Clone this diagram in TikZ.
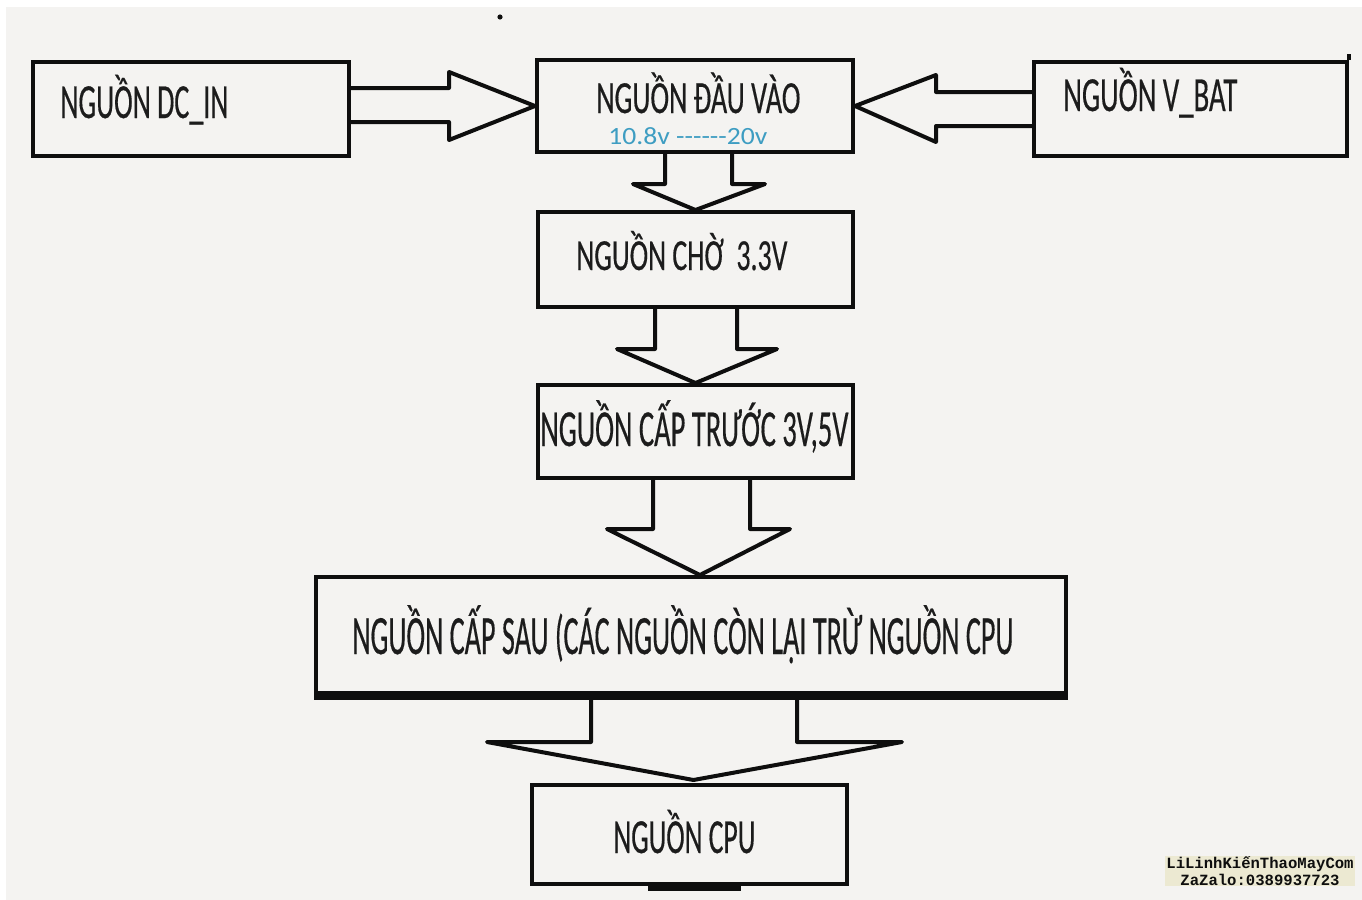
\documentclass[tikz,border=0pt]{standalone}
\usepackage{fontspec}
\usepackage{graphicx}
\setmainfont{Carlito}[FakeBold=0.5]
\newfontfamily\blufont{Carlito}[Ligatures=TeXOff]
\newfontfamily\wmfont{Liberation Mono}
\usetikzlibrary{calc}
\definecolor{bg}{HTML}{F4F3F1}
\definecolor{ink}{HTML}{0E0E0E}
\definecolor{txt}{HTML}{1C1C1C}
\definecolor{blu}{HTML}{3E9DC2}
\definecolor{wmbg}{HTML}{ECE9D2}
\newcommand{\lab}[3]{\resizebox{#1}{\height}{\fontsize{#2}{#2}\selectfont #3}}
\begin{document}
\begin{tikzpicture}[x=0.5pt,y=-0.5pt,
  box/.style={draw=ink, line width=2pt, inner sep=0pt},
  lbl/.style={text=txt, inner sep=0pt, anchor=base west},
  barrow/.style={draw=ink, line width=2pt, line join=round}]
\useasboundingbox (0,0) rectangle (1362,900);
\fill[white] (0,0) rectangle (1362,900);
\fill[bg] (6,7) rectangle (1362,900);

% boxes
\node[box, minimum width=158pt, minimum height=47pt] (dc) at (191,109) {};
\node[box, minimum width=158pt, minimum height=46pt] (in) at (695,106) {};
\node[box, minimum width=156.5pt, minimum height=47pt] (bat) at (1190.5,109) {};
\node[box, minimum width=157.5pt, minimum height=47.5pt] (sb) at (695.5,259.5) {};
\node[box, minimum width=157.5pt, minimum height=46.5pt] (pre) at (695.5,431.5) {};
\node[box, minimum width=375pt, minimum height=58pt] (post) at (691,635) {};
\node[box, minimum width=157.5pt, minimum height=49.5pt] (cpu) at (689.5,834.5) {};

% extra strokes on boxes
\draw[ink, line width=3.5pt] ($(post.south west)+(0,1)$) -- ($(post.south east)+(0,1)$);
\draw[ink, line width=3pt] ($(cpu.south)+(-42,2)$) -- ($(cpu.south)+(51,2)$);
\draw[ink, line width=2pt] ($(bat.north east)+(0,-6)$) -- (bat.north east);
\fill[ink] (500,17) circle (1.3pt);
\fill[ink] (501,696) circle (1.5pt);

% labels
\node[lbl] (dct) at (60,118) {\lab{84pt}{24.5}{NGUỒN DC\_IN}};
\node[lbl] (int) at (596,113) {\lab{102pt}{23}{NGUỒN ĐẦU VÀO}};
\node[lbl, text=blu] (inv) at (608,144) {\lab{79.5pt}{12.4}{\blufont 10.8v ------20v}};
\node[lbl] (batt) at (1063,111) {\lab{87pt}{24.5}{NGUỒN V\_BAT}};
\node[lbl] (sbt) at (576,270) {\lab{105.5pt}{22.2}{NGUỒN CHỜ\ \ 3.3V}};
\node[lbl] (pret) at (540,446) {\lab{154pt}{26}{NGUỒN CẤP TRƯỚC 3V,5V}};
\node[lbl] (postt) at (352,654) {\lab{330.5pt}{27.7}{NGUỒN CẤP SAU (CÁC NGUỒN CÒN LẠI TRỪ NGUỒN CPU}};
\node[lbl] (cput) at (613,853) {\lab{71pt}{24.5}{NGUỒN CPU}};

% block arrows
\draw[barrow] ($(dc.east)+(0,-21)$) -- ++(98,0) -- ++(0,-16) -- (in.west)
  -- ($(dc.east)+(98,31)$) -- ++(0,-18) -- ($(dc.east)+(0,13)$);
\draw[barrow] ($(bat.west)+(0,-17)$) -- ++(-96,0) -- ++(0,-17) -- (in.east)
  -- ($(bat.west)+(-96,33)$) -- ++(0,-16) -- ($(bat.west)+(0,17)$);
\draw[barrow] ($(in.south)+(-30,0)$) -- ++(0,30) -- ($(in.south)+(-62,30)$) -- (sb.north)
  -- ($(in.south)+(70,30)$) -- ($(in.south)+(37,30)$) -- ($(in.south)+(37,0)$);
\draw[barrow] ($(sb.south)+(-40.5,0)$) -- ++(0,40) -- ($(sb.south)+(-78.5,40)$) -- (pre.north)
  -- ($(sb.south)+(81.5,40)$) -- ($(sb.south)+(41.5,40)$) -- ($(sb.south)+(41.5,0)$);
\draw[barrow] ($(pre.south)+(-42.5,0)$) -- ++(0,49) -- ($(pre.south)+(-88.5,49)$) -- ($(post.north)+(9,0)$)
  -- ($(pre.south)+(94.5,49)$) -- ($(pre.south)+(54.5,49)$) -- ($(pre.south)+(54.5,0)$);
\draw[barrow] ($(post.south)+(-100,0)$) -- ++(0,47) -- ($(post.south)+(-204,47)$) -- ($(cpu.north)+(4,-3)$)
  -- ($(post.south)+(211,47)$) -- ($(post.south)+(106,47)$) -- ($(post.south)+(106,0)$);

% watermark
\node[font=\wmfont\bfseries\fontsize{7.8}{8.2}\selectfont, align=center, fill=wmbg, inner sep=0.5pt, text=ink] (wm) at (1260,871) {LiLinhKiếnThaoMayCom\\ZaZalo:0389937723};
\end{tikzpicture}
\end{document}
